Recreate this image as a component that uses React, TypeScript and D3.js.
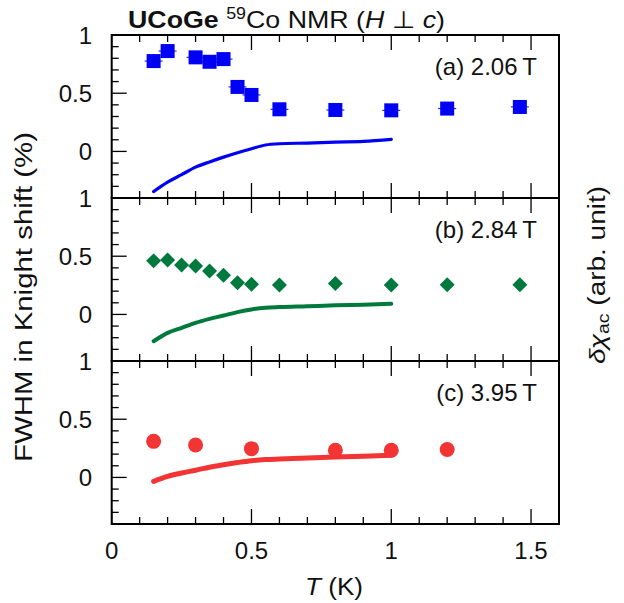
import React from "react";
import * as d3 from "d3";

// ---- data ----
const PANEL_LABELS = ["(a) 2.06\u2009T", "(b) 2.84\u2009T", "(c) 3.95\u2009T"];
const X_TICKS = [0, 0.5, 1, 1.5];
const Y_TICK_LABELS = [0, 0.5, 1];

const T_A = [0.15, 0.2, 0.3, 0.35, 0.4, 0.45, 0.5, 0.6, 0.8, 1.0, 1.2, 1.46];
const FWHM_A = [0.776, 0.862, 0.808, 0.77, 0.793, 0.554, 0.485, 0.362, 0.356, 0.353, 0.368, 0.382];

const T_B = [0.15, 0.2, 0.25, 0.3, 0.35, 0.4, 0.45, 0.5, 0.6, 0.8, 1.0, 1.2, 1.46];
const FWHM_B = [0.46, 0.468, 0.425, 0.416, 0.373, 0.336, 0.273, 0.259, 0.253, 0.265, 0.253, 0.255, 0.255];

const T_C = [0.15, 0.3, 0.5, 0.8, 1.0, 1.2];
const FWHM_C = [0.31, 0.279, 0.247, 0.233, 0.233, 0.24];

const CHI_T = [0.15, 0.2, 0.25, 0.3, 0.35, 0.4, 0.45, 0.5, 0.55, 0.6, 0.7, 0.8, 0.9, 1.0];
const CHI_A = [-0.345, -0.264, -0.2, -0.135, -0.09, -0.049, -0.011, 0.023, 0.055, 0.066, 0.072, 0.08, 0.086, 0.103];
const CHI_B = [-0.23, -0.158, -0.115, -0.072, -0.038, -0.009, 0.02, 0.043, 0.057, 0.063, 0.07, 0.078, 0.083, 0.092];
const CHI_C = [-0.034, 0.009, 0.038, 0.062, 0.088, 0.109, 0.128, 0.144, 0.153, 0.158, 0.167, 0.176, 0.182, 0.19];

const FONT = "'Liberation Sans', Arial, Helvetica, sans-serif";
const W = 624;
const H = 603;
const LEFT = 111.7;
const RIGHT = 559;
const TOP = 35;
const PH = 163;

const x = d3.scaleLinear().domain([0, 1.6]).range([LEFT, RIGHT]);

type PanelDef = {
  label: string;
  t: number[];
  v: number[];
  chi: number[];
  color: string;
  marker: "square" | "diamond" | "circle";
  strokeW: number;
};

const PANELS: PanelDef[] = [
  { label: PANEL_LABELS[0], t: T_A, v: FWHM_A, chi: CHI_A, color: "#0000f5", marker: "square", strokeW: 3.2 },
  { label: PANEL_LABELS[1], t: T_B, v: FWHM_B, chi: CHI_B, color: "#007a3c", marker: "diamond", strokeW: 4 },
  { label: PANEL_LABELS[2], t: T_C, v: FWHM_C, chi: CHI_C, color: "#f23434", marker: "circle", strokeW: 5 },
];

function Panel({ p, i, bottom }: { p: PanelDef; i: number; bottom: boolean }) {
  const top = TOP + i * PH;
  const y = d3.scaleLinear().domain([-0.4, 1]).range([top + PH, top]);
  const minorX = d3.range(0, 16.01, 1).map((k) => k / 10);
  const minorY = d3.range(-4, 10.01, 1).map((k) => k / 10);
  const line = d3
    .line<number>()
    .x((_, j) => x(CHI_T[j]))
    .y((d) => y(d))
    .curve(d3.curveMonotoneX);
  const isMajorX = (v: number) => Math.abs(v * 2 - Math.round(v * 2)) < 1e-6;
  const isMajorY = (v: number) => Y_TICK_LABELS.some((t) => Math.abs(t - v) < 1e-6);
  return (
    <g>
      {minorX.map((v) => {
        const L = isMajorX(v) ? 15 : 7;
        return (
          <g key={"xt" + v}>
            <line x1={x(v)} x2={x(v)} y1={top + PH} y2={top + PH - L} stroke="#000" strokeWidth={1.3} />
            <line x1={x(v)} x2={x(v)} y1={top} y2={top + L} stroke="#000" strokeWidth={1.3} />
          </g>
        );
      })}
      {minorY.map((v) => {
        const L = isMajorY(v) ? 15 : 7;
        return <line key={"yt" + v} x1={LEFT} x2={LEFT + L} y1={y(v)} y2={y(v)} stroke="#000" strokeWidth={1.3} />;
      })}
      {Y_TICK_LABELS.map((v) => (
        <text key={"yl" + v} x={92} y={y(v)} dy="0.36em" textAnchor="end" fontSize={24} fontFamily={FONT} fill="#111">
          {v}
        </text>
      ))}
      {bottom &&
        X_TICKS.map((v) => (
          <text key={"xl" + v} x={x(v)} y={559} textAnchor="middle" fontSize={24} fontFamily={FONT} fill="#111">
            {v}
          </text>
        ))}
      <path d={line(p.chi) || ""} fill="none" stroke={p.color} strokeWidth={p.strokeW} strokeLinecap="round" />
      {p.t.map((t, j) => {
        const cx = x(t);
        const cy = y(p.v[j]);
        if (p.marker === "square")
          return (
            <g key={"m" + j}>
              <line x1={cx - 9} x2={cx + 9} y1={cy} y2={cy} stroke={p.color} strokeWidth={1} />
              <rect x={cx - 7} y={cy - 7} width={14} height={14} fill={p.color} />
            </g>
          );
        if (p.marker === "diamond")
          return (
            <rect
              key={"m" + j}
              x={-5.3}
              y={-5.3}
              width={10.6}
              height={10.6}
              fill={p.color}
              transform={`translate(${cx},${cy}) rotate(45)`}
            />
          );
        return <circle key={"m" + j} cx={cx} cy={cy} r={7.5} fill={p.color} />;
      })}
      <rect x={LEFT} y={top} width={RIGHT - LEFT} height={PH} fill="none" stroke="#000" strokeWidth={2} />
      <text x={537} y={top + 40} textAnchor="end" fontSize={24} fontFamily={FONT} fill="#111">
        {p.label}
      </text>
    </g>
  );
}

export default function App() {
  return (
    <svg width={W} height={H} style={{ position: "absolute", left: 0, top: 0, background: "#fff" }}>
      <rect width={W} height={H} fill="#fff" />
      {PANELS.map((p, i) => (
        <Panel key={i} p={p} i={i} bottom={i === PANELS.length - 1} />
      ))}
      <text x={128} y={28} fontSize={24} fontFamily={FONT} fill="#111" textLength={317} lengthAdjust="spacingAndGlyphs">
        <tspan fontWeight="bold">UCoGe</tspan>
        <tspan> </tspan>
        <tspan fontSize={16} dy={-9}>59</tspan>
        <tspan dy={9}>Co NMR (</tspan>
        <tspan fontStyle="italic">H</tspan>
        <tspan> {"\u22A5"} </tspan>
        <tspan fontStyle="italic">c</tspan>
        <tspan>)</tspan>
      </text>
      <text
        transform="translate(32,297) rotate(-90)"
        textAnchor="middle"
        fontSize={23}
        fontFamily={FONT}
        fill="#111"
        textLength={330}
        lengthAdjust="spacingAndGlyphs"
      >
        FWHM in Knight shift (%)
      </text>
      <text
        transform="translate(605,275) rotate(-90)"
        textAnchor="middle"
        fontSize={23}
        fontFamily={FONT}
        fill="#111"
        textLength={178}
        lengthAdjust="spacingAndGlyphs"
      >
        <tspan fontStyle="italic">{"\u03B4\u03C7"}</tspan>
        <tspan fontSize={16} dy={4}>ac</tspan>
        <tspan dy={-4}> (arb. unit)</tspan>
      </text>
      <text x={334} y={595} textAnchor="middle" fontSize={23} fontFamily={FONT} fill="#111" textLength={58} lengthAdjust="spacingAndGlyphs">
        <tspan fontStyle="italic">T</tspan>
        <tspan> (K)</tspan>
      </text>
    </svg>
  );
}
